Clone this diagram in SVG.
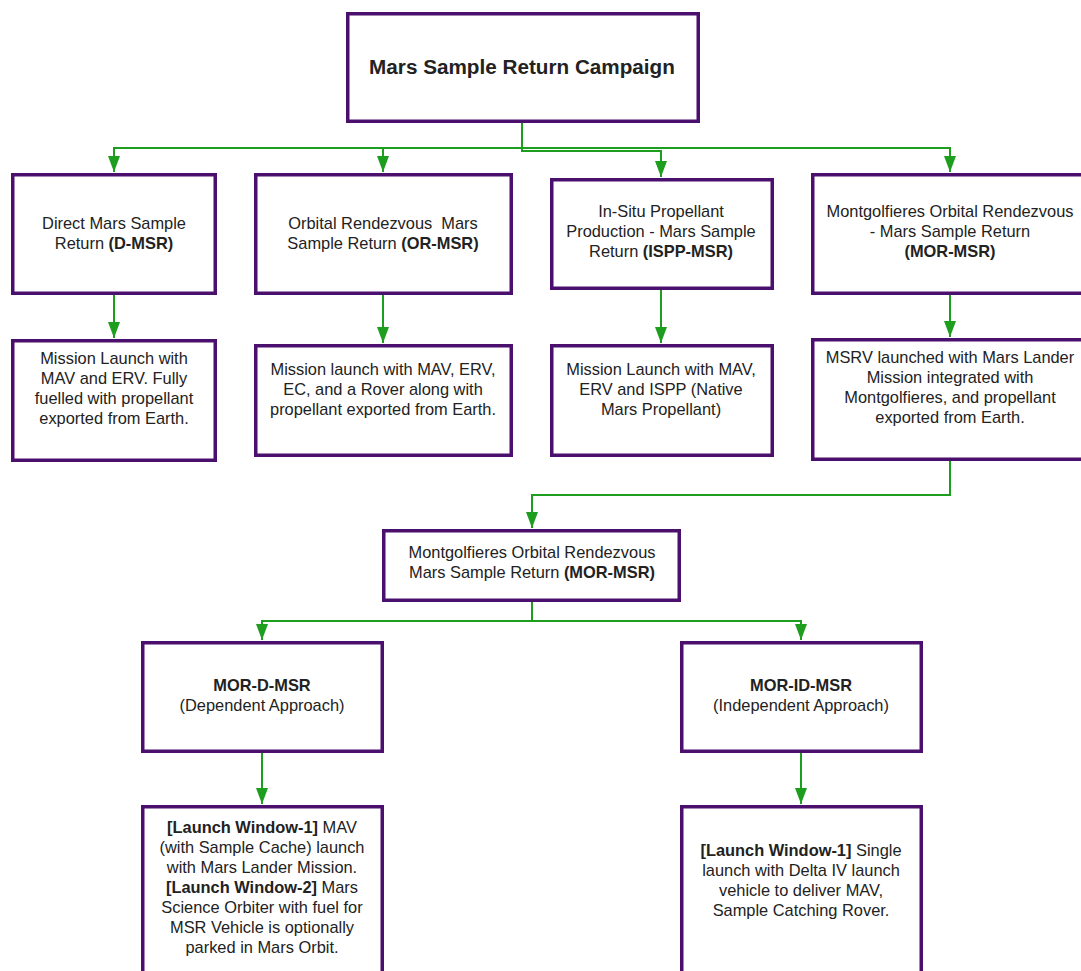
<svg xmlns="http://www.w3.org/2000/svg" width="1081" height="971" viewBox="0 0 1081 971">
<style>
.box{fill:#fff;stroke:#4b0f6e;stroke-width:3.5}
.t{font-family:"Liberation Sans",Arial,sans-serif;font-size:16.4px;fill:#222;text-anchor:middle}
.b{font-weight:bold}
.title{font-family:"Liberation Sans",Arial,sans-serif;font-size:20.7px;font-weight:bold;fill:#222;text-anchor:middle}
.c{fill:none;stroke:#1e9e1e;stroke-width:2}
</style>
<defs>
<marker id="ah" markerUnits="userSpaceOnUse" markerWidth="16" markerHeight="12" refX="16" refY="6" orient="auto">
<path d="M0,0 L16,6 L0,12 z" fill="#1e9e1e"/>
</marker>
</defs>
<rect width="1081" height="971" fill="#fff"/>
<g id="connectors">
<path class="c" d="M522,123 V148 H114 V172" marker-end="url(#ah)"/>
<path class="c" d="M522,148 H383 V172" marker-end="url(#ah)"/>
<path class="c" d="M522,123 V151 H661 V177" marker-end="url(#ah)"/>
<path class="c" d="M522,148 H950 V172" marker-end="url(#ah)"/>
<path class="c" d="M114,295 V338" marker-end="url(#ah)"/>
<path class="c" d="M383,295 V343" marker-end="url(#ah)"/>
<path class="c" d="M661,290 V343" marker-end="url(#ah)"/>
<path class="c" d="M950,295 V337" marker-end="url(#ah)"/>
<path class="c" d="M950,461 V495 H532 V528" marker-end="url(#ah)"/>
<path class="c" d="M532,602 V621 H262 V640" marker-end="url(#ah)"/>
<path class="c" d="M532,621 H801 V640" marker-end="url(#ah)"/>
<path class="c" d="M262,753 V804" marker-end="url(#ah)"/>
<path class="c" d="M801,753 V804" marker-end="url(#ah)"/>
</g>
<g id="campaign">
<rect class="box" x="347.75" y="13.75" width="350.5" height="107.5"/>
<text class="title" x="522" y="73.5">Mars Sample Return Campaign</text>
</g>
<g id="dmsr">
<rect class="box" x="12.75" y="174.75" width="202.5" height="118.5"/>
<text class="t" x="114" y="228.5">Direct Mars Sample</text>
<text class="t" x="114" y="248.5">Return <tspan class="b">(D-MSR)</tspan></text>
</g>
<g id="ormsr">
<rect class="box" x="255.75" y="174.75" width="255.5" height="118.5"/>
<text class="t" x="383" y="228.5" xml:space="preserve">Orbital Rendezvous  Mars</text>
<text class="t" x="383" y="248.5">Sample Return <tspan class="b">(OR-MSR)</tspan></text>
</g>
<g id="isppmsr">
<rect class="box" x="551.75" y="179.75" width="220.5" height="108.5"/>
<text class="t" x="661" y="216.5">In-Situ Propellant</text>
<text class="t" x="661" y="236.5">Production - Mars Sample</text>
<text class="t" x="661" y="256.5">Return <tspan class="b">(ISPP-MSR)</tspan></text>
</g>
<g id="mormsr">
<rect class="box" x="812.75" y="174.75" width="280" height="118.5"/>
<text class="t" x="950" y="216.5">Montgolfieres Orbital Rendezvous</text>
<text class="t" x="950" y="236.5">- Mars Sample Return</text>
<text class="t b" x="950" y="256.5">(MOR-MSR)</text>
</g>
<g id="dmsr-launch">
<rect class="box" x="12.75" y="340.75" width="202.5" height="119.5"/>
<text class="t" x="114" y="363.5">Mission Launch with</text>
<text class="t" x="114" y="383.5">MAV and ERV. Fully</text>
<text class="t" x="114" y="403.5">fuelled with propellant</text>
<text class="t" x="114" y="423.5">exported from Earth.</text>
</g>
<g id="ormsr-launch">
<rect class="box" x="255.75" y="345.75" width="255.5" height="109.5"/>
<text class="t" x="383" y="374.5">Mission launch with MAV, ERV,</text>
<text class="t" x="383" y="394.5">EC, and a Rover along with</text>
<text class="t" x="383" y="414.5">propellant exported from Earth.</text>
</g>
<g id="isppmsr-launch">
<rect class="box" x="551.75" y="345.75" width="220.5" height="109.5"/>
<text class="t" x="661" y="374.5">Mission Launch with MAV,</text>
<text class="t" x="661" y="394.5">ERV and ISPP (Native</text>
<text class="t" x="661" y="414.5">Mars Propellant)</text>
</g>
<g id="mormsr-launch">
<rect class="box" x="812.75" y="339.75" width="280" height="119.5"/>
<text class="t" x="950" y="362.5">MSRV launched with Mars Lander</text>
<text class="t" x="950" y="382.5">Mission integrated with</text>
<text class="t" x="950" y="402.5">Montgolfieres, and propellant</text>
<text class="t" x="950" y="422.5">exported from Earth.</text>
</g>
<g id="mormsr-detail">
<rect class="box" x="383.75" y="530.75" width="295.5" height="69.5"/>
<text class="t" x="532" y="557.5">Montgolfieres Orbital Rendezvous</text>
<text class="t" x="532" y="577.5">Mars Sample Return <tspan class="b">(MOR-MSR)</tspan></text>
</g>
<g id="mor-d-msr">
<rect class="box" x="142.75" y="642.75" width="239.5" height="108.5"/>
<text class="t b" x="262" y="690.5">MOR-D-MSR</text>
<text class="t" x="262" y="711">(Dependent Approach)</text>
</g>
<g id="mor-id-msr">
<rect class="box" x="681.75" y="642.75" width="239.5" height="108.5"/>
<text class="t b" x="801" y="690.5">MOR-ID-MSR</text>
<text class="t" x="801" y="711">(Independent Approach)</text>
</g>
<g id="mor-d-launch">
<rect class="box" x="142.75" y="806.75" width="239.5" height="200"/>
<text class="t" x="262" y="832.5"><tspan class="b">[Launch Window-1]</tspan> MAV</text>
<text class="t" x="262" y="852.5">(with Sample Cache) launch</text>
<text class="t" x="262" y="872.5">with Mars Lander Mission.</text>
<text class="t" x="262" y="892.5"><tspan class="b">[Launch Window-2]</tspan> Mars</text>
<text class="t" x="262" y="912.5">Science Orbiter with fuel for</text>
<text class="t" x="262" y="932.5">MSR Vehicle is optionally</text>
<text class="t" x="262" y="952.5">parked in Mars Orbit.</text>
</g>
<g id="mor-id-launch">
<rect class="box" x="681.75" y="806.75" width="239.5" height="200"/>
<text class="t" x="801" y="855.5"><tspan class="b">[Launch Window-1]</tspan> Single</text>
<text class="t" x="801" y="875.5">launch with Delta IV launch</text>
<text class="t" x="801" y="895.5">vehicle to deliver MAV,</text>
<text class="t" x="801" y="915.5">Sample Catching Rover.</text>
</g>
</svg>
